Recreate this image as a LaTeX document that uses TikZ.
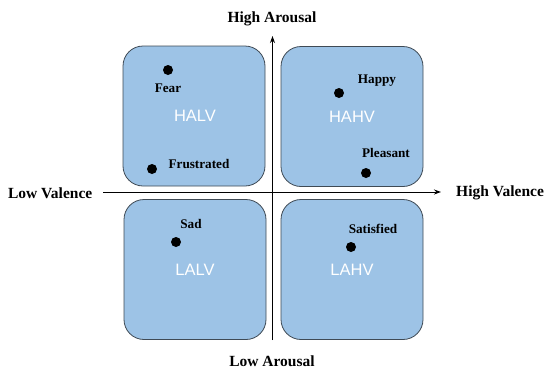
\documentclass[tikz,border=0pt]{standalone}
\usepackage{fontspec}
\setmainfont{Liberation Serif}
\newfontfamily\quadfont{Liberation Sans}
\usetikzlibrary{arrows.meta}
\definecolor{boxfill}{HTML}{9DC3E6}
\definecolor{boxline}{HTML}{3F4A55}
\tikzset{
  quad/.style={draw=boxline, line width=0.8pt, fill=boxfill, rounded corners=20pt, minimum width=142pt, minimum height=140pt, inner sep=0pt},
  quadlabel/.style={text=white, font=\quadfont\fontsize{16.5}{18}\selectfont, inner sep=0pt},
  axislabel/.style={font=\bfseries\fontsize{15.5}{17}\selectfont, inner sep=0pt},
  ptlabel/.style={font=\bfseries\fontsize{13.2}{15}\selectfont, inner sep=0pt},
  pt/.style={circle, fill=black, minimum size=10pt, inner sep=0pt},
  axis/.style={line width=1pt, -{Stealth[length=7pt,width=5pt]}}
}
\begin{document}
\begin{tikzpicture}[x=1pt,y=-1pt]
\useasboundingbox (0,0) rectangle (544,370);
% quadrants
\node[quad] (halv) at (194,116) {};
\node[quad] (hahv) at (352,116.5) {};
\node[quad] (lalv) at (195,269.5) {};
\node[quad] (lahv) at (352,269.5) {};
\node[quadlabel] (thalv) at (195,116) {HALV};
\node[quadlabel] (thahv) at (352,117) {HAHV};
\node[quadlabel] (tlalv) at (195,270) {LALV};
\node[quadlabel] (tlahv) at (352,270) {LAHV};
% axes
\coordinate (vbot) at (272.5,340);
\coordinate (vtop) at (272.5,36);
\coordinate (hleft) at (103,192);
\coordinate (hright) at (441,192);
\draw[axis] (vbot) -- (vtop);
\draw[axis] (hleft) -- (hright);
\node[axislabel] (ha) at (272,19) {High Arousal};
\node[axislabel] (la) at (272,361.5) {Low Arousal};
\node[axislabel, anchor=east] (lv) at (92.5,193) {Low Valence};
\node[axislabel, anchor=west] (hv) at (456,193) {High Valence};
% points
\node[pt] (fear) at (168,70) {};
\node[ptlabel] (lfear) at (168,88) {Fear};
\node[pt] (frus) at (152,169) {};
\node[ptlabel] (lfrus) at (199,164) {Frustrated};
\node[pt] (happy) at (339,93) {};
\node[ptlabel] (lhappy) at (377,81) {Happy};
\node[pt] (pleas) at (366,173) {};
\node[ptlabel] (lpleas) at (386,153) {Pleasant};
\node[pt] (sad) at (176,242) {};
\node[ptlabel] (lsad) at (191,224) {Sad};
\node[pt] (satis) at (351,247) {};
\node[ptlabel] (lsatis) at (373,229) {Satisfied};
\end{tikzpicture}
\end{document}
